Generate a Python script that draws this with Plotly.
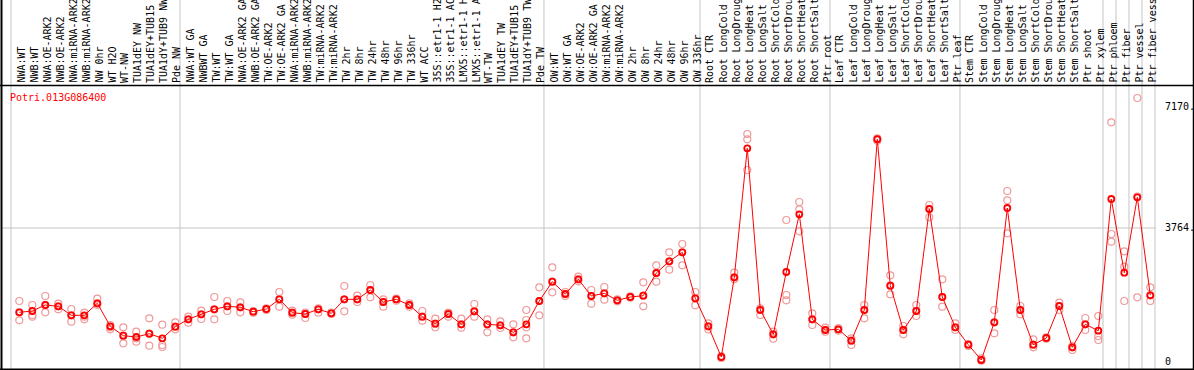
import plotly.graph_objects as go

categories = [
    "NWA:WT", "NWB:WT", "NWA:OE-ARK2", "NWB:OE-ARK2", "NWA:miRNA-ARK2", "NWB:miRNA-ARK2",
    "NW 0hr", "WT H2O", "WT-NW", "TUA1dEY NW", "TUA1dEY+TUB15 NW", "TUA1dY+TUB9 NW", "Pde NW",
    "NWA:WT GA", "NWBWT GA", "TW:WT", "TW:WT GA", "NWA:OE-ARK2 GA", "NWB:OE-ARK2 GA",
    "TW:OE-ARK2", "TW:OE-ARK2 GA", "NWA:miRNA-ARK2", "NWB:miRNA-ARK2", "TW:miRNA-ARK2",
    "TW:miRNA-ARK2", "TW 2hr", "TW 8hr", "TW 24hr", "TW 48hr", "TW 96hr", "TW 336hr",
    "WT ACC", "35S::etr1-1 H2O", "35S::etr1-1 ACC", "LMX5::etr1-1 H2O", "LMX5::etr1-1 ACC",
    "WT-TW", "TUA1dEY TW", "TUA1dEY+TUB15 TW", "TUA1dY+TUB9 TW", "Pde TW",
    "OW:WT", "OW:WT GA", "OW:OE-ARK2", "OW:OE-ARK2 GA", "OW:miRNA-ARK2", "OW:miRNA-ARK2",
    "OW 2hr", "OW 8hr", "OW 24hr", "OW 48hr", "OW 96hr", "OW 336hr",
    "Root CTR", "Root LongCold", "Root LongDrought", "Root LongHeat", "Root LongSalt",
    "Root ShortCold", "Root ShortDrought", "Root ShortHeat", "Root ShortSalt", "Ptr root",
    "Leaf CTR", "Leaf LongCold", "Leaf LongDrought", "Leaf LongHeat", "Leaf LongSalt",
    "Leaf ShortCold", "Leaf ShortDrought", "Leaf ShortHeat", "Leaf ShortSalt", "Ptr leaf",
    "Stem CTR", "Stem LongCold", "Stem LongDrought", "Stem LongHeat", "Stem LongSalt",
    "Stem ShortCold", "Stem ShortDrought", "Stem ShortHeat", "Stem ShortSalt", "Ptr shoot",
    "Ptr xylem", "Ptr phloem", "Ptr fiber", "Ptr vessel", "Ptr fiber vessel",
]

means = [
    1390, 1427, 1596, 1559, 1306, 1306, 1644, 996, 732, 695, 788, 659, 985,
    1193, 1334, 1475, 1559, 1531, 1407, 1483, 1756, 1379, 1343, 1475, 1362,
    1756, 1756, 2018, 1680, 1756, 1596, 1267, 1070, 1343, 1053, 1419, 1053,
    1024, 827, 1053, 1708,
    2252, 1905, 2319, 1849, 1925, 1728, 1821, 1858, 2496, 2826, 3079, 1784,
    996, 132, 2375, 6006, 1455, 771, 2525, 4149, 1193, 892,
    912, 591, 1455, 6262, 2139, 892, 1427, 4298, 1821, 968,
    478, 48, 1109, 4326, 1455, 478, 667, 1568, 405, 1053,
    872, 4579, 2505, 4627, 1869,
]

replicates = [
    [1708, 1389, 1164], [1596, 1314, 1268], [1849, 1596, 1389], [1633, 1558, 1474],
    [1483, 1305, 1127], [1380, 1268, 1192], [1774, 1643, 1596], [1033, 967, 911],
    [967, 733, 517], [845, 658, 564], [1221, 789, 451], [1042, 470, 414],
    [1108, 986, 911], [1268, 1192, 1099], [1436, 1333, 1202], [1821, 1474, 1192],
    [1708, 1558, 1427], [1671, 1530, 1389], [1427, 1408, 1380], [1502, 1483, 1455],
    [1962, 1755, 1549], [1436, 1380, 1324], [1380, 1343, 1230], [1502, 1474, 1380],
    [1380, 1361, 1343], [2131, 1755, 1418], [1859, 1755, 1680], [2159, 2018, 1812],
    [1755, 1680, 1549], [1774, 1755, 1718], [1643, 1596, 1549], [1427, 1268, 1155],
    [1211, 1071, 967], [1380, 1343, 1268], [1211, 1052, 958], [1624, 1418, 1268],
    [1192, 1052, 827], [1136, 1024, 949], [1052, 827, 686], [1455, 1174, 967, 658],
    [2093, 1708, 1305], [2656, 2253, 1952], [1962, 1905, 1849], [2393, 2318, 2262],
    [2018, 1849, 1633], [2103, 1924, 1746], [1755, 1727, 1699], [1840, 1821, 1802],
    [2234, 1859, 1558], [2712, 2497, 2253], [3078, 2825, 2590], [3313, 3078, 2712],
    [1962, 1784, 1587], [1080, 995, 911], [160, 132, 104], [2506, 2375, 2318],
    [6409, 6259, 5396], [1502, 1455, 1314], [845, 770, 648], [3988, 1877, 1727],
    [4495, 4289, 3669], [1361, 1192, 1033], [958, 892, 845], [949, 911, 873],
    [658, 592, 470], [1596, 1455, 1221], [6287, 6259, 6221], [2431, 2140, 1896],
    [1005, 892, 770], [1596, 1427, 1286], [4411, 4298, 4063], [2318, 1821, 1549],
    [1080, 967, 892], [498, 479, 442], [95, 48, 29], [1455, 1108, 798],
    [4805, 4542, 3613], [1568, 1455, 1333], [630, 479, 404], [686, 667, 648],
    [1662, 1568, 1455], [442, 404, 329], [1230, 1052, 892], [1286, 723, 611],
    [6737, 3594, 3378], [3106, 2675, 1708], [7422, 4645, 1811], [2093, 1868, 1708],
]

group_starts = [0, 13, 41, 53, 63, 73, 84, 85, 86, 87, 88]
right_ticks = [7170, 3764, 0]
right_tick_text = ["7170.", "3764.", "0"]
gene = "Potri.013G086400"

W, H = 1194, 370
FONT = "DejaVu Sans Mono"
x_idx = list(range(len(categories)))

rx, ry = [], []
for i, vals in enumerate(replicates):
    for v in vals:
        rx.append(i)
        ry.append(v)

fig = go.Figure()
fig.add_trace(go.Scatter(
    x=rx, y=ry, mode="markers",
    marker=dict(symbol="circle-open", size=7, color="#ef9a9a", line=dict(width=1.2, color="#ef9a9a")),
    hoverinfo="skip", showlegend=False,
))
fig.add_trace(go.Scatter(
    x=x_idx, y=means, mode="lines+markers",
    line=dict(color="#ff0000", width=1),
    marker=dict(symbol="circle-open", size=6, color="#ff0000", line=dict(width=1.8, color="#ff0000")),
    showlegend=False,
))

shapes = []
for k in group_starts:
    shapes.append(dict(type="line", xref="x", yref="paper", x0=k - 0.64, x1=k - 0.64, y0=0, y1=1,
                       line=dict(color="#c4c4c4", width=1), layer="below"))
shapes.append(dict(type="line", xref="x", yref="y", x0=-1.4, x1=87.44, y0=right_ticks[1], y1=right_ticks[1],
                   line=dict(color="#c4c4c4", width=1), layer="below"))
# frame
shapes += [
    dict(type="line", xref="paper", yref="paper", x0=1.5 / W, x1=1.5 / W, y0=0, y1=1, line=dict(color="black", width=2)),
    dict(type="line", xref="paper", yref="paper", x0=1193.5 / W, x1=1193.5 / W, y0=0, y1=1, line=dict(color="black", width=1.5)),
    dict(type="line", xref="paper", yref="paper", x0=0, x1=1, y0=1 - 85.5 / H, y1=1 - 85.5 / H, line=dict(color="black", width=1.5)),
    dict(type="line", xref="paper", yref="paper", x0=0, x1=1, y0=1 - 369.5 / H, y1=1 - 369.5 / H, line=dict(color="black", width=2)),
]

annotations = []
for i, lab in enumerate(categories):
    annotations.append(dict(x=i + 0.1, xref="x", y=1 - 84 / H, yref="paper", text=lab, textangle=-90,
                            xanchor="center", yanchor="bottom", showarrow=False, borderpad=0,
                            font=dict(family=FONT, size=10, color="black")))
annotations.append(dict(x=9 / W, xref="paper", y=1 - 91 / H, yref="paper", text=gene, showarrow=False,
                        xanchor="left", yanchor="top", borderpad=0, font=dict(family=FONT, size=10, color="#ff0000")))
for v, t in zip(right_ticks, right_tick_text):
    annotations.append(dict(x=1164 / W, xref="paper", y=v, yref="y", text=t, showarrow=False,
                            xanchor="left", yanchor="middle", borderpad=0, font=dict(family=FONT, size=10, color="black")))

x0 = -19.3 / 13
fig.update_layout(
    width=W, height=H, margin=dict(l=0, r=0, t=0, b=0),
    paper_bgcolor="white", plot_bgcolor="white",
    xaxis=dict(range=[x0, x0 + W / 13], visible=False, fixedrange=True),
    yaxis=dict(range=[-8.3 / 0.03553, 361.7 / 0.03553], visible=False, fixedrange=True),
    shapes=shapes, annotations=annotations, showlegend=False,
)
fig.write_html("out.html", config={"displayModeBar": False},
               post_script="document.body.style.margin='0';document.body.style.overflow='hidden';")
